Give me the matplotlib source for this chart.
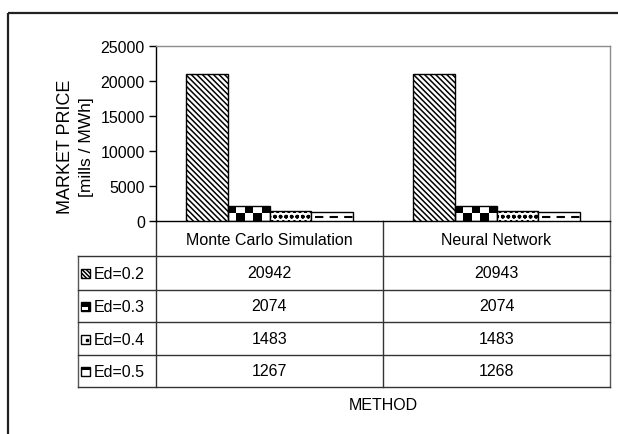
import numpy as np
import matplotlib
matplotlib.use("Agg")
import matplotlib.pyplot as plt
from matplotlib.patches import Rectangle

plt.rcParams['font.family'] = ['Liberation Sans', 'DejaVu Sans']
plt.rcParams['hatch.linewidth'] = 1.1

methods = ['Monte Carlo Simulation', 'Neural Network']
series = ['Ed=0.2', 'Ed=0.3', 'Ed=0.4', 'Ed=0.5']
ed_02 = [20942, 20943]
ed_03 = [2074, 2074]
ed_04 = [1483, 1483]
ed_05 = [1267, 1268]
yticks = [0, 5000, 10000, 15000, 20000, 25000]

values = [ed_02, ed_03, ed_04, ed_05]
hatches = ['\\' * 6, None, 'ooo', None]

W, H = 618, 435
FS = 11.5
fig = plt.figure(figsize=(W / 100, H / 100), dpi=100)

# overlay in pixel coords for the frame and the data table
ov = fig.add_axes([0, 0, 1, 1])
ov.set_xlim(0, W)
ov.set_ylim(H, 0)
ov.axis('off')

# plot area
ax = fig.add_axes([156 / W, 1 - 222 / H, 454 / W, 175 / H])
ax.set_zorder(2)
ax.patch.set_alpha(0)

bw = 0.183
x = np.arange(len(methods)) + 0.5
for i, vals in enumerate(values):
    xs = x + (i - 1.5) * bw
    bars = ax.bar(xs, vals, bw, color='white', edgecolor='black', linewidth=1,
                  hatch=hatches[i], zorder=3)
    for b, v in zip(bars, vals):
        x0, x1 = b.get_x(), b.get_x() + b.get_width()
        if series[i] == 'Ed=0.3':
            checker = np.indices((2, 5)).sum(axis=0) % 2
            im = ax.imshow(checker, cmap='gray', extent=(x0, x1, 0, v), origin='upper',
                           aspect='auto', interpolation='nearest', zorder=2.5)
            im.set_clip_path(b)
            b.set_facecolor('none')
        if series[i] == 'Ed=0.5':
            ax.hlines(v / 2, x0 + 0.1 * (x1 - x0), x1, colors='black', linewidth=1.5,
                      linestyles=(0, (4, 3)), zorder=4)

ax.set_xlim(0, len(methods))
ax.set_ylim(0, 25000)
ax.set_yticks(yticks)
ax.set_yticklabels([str(t) for t in yticks], fontsize=FS)
ax.set_xticks([])
ax.tick_params(axis='y', direction='out', length=5, width=1, pad=3)
for s in ['top', 'right']:
    ax.spines[s].set_color('#8c8c8c')
for s in ['left', 'bottom']:
    ax.spines[s].set_color('black')
for s in ax.spines.values():
    s.set_linewidth(1)

# y axis title, two lines
fig.text(65 / W, 1 - 147 / H, 'MARKET PRICE', rotation=90,
         ha='center', va='center', fontsize=13)
fig.text(86 / W, 1 - 147 / H, '[mills / MWh]', rotation=90,
         ha='center', va='center', fontsize=12.5)

# outer frame
ov.add_patch(Rectangle((8, 14), 640, 460, fill=False, edgecolor='#222222', linewidth=1.6))

# data table below the axis
lc = '#333333'
col_x = [156, 383, 610]
row_y = [257, 291, 323, 356, 388]
for cx in col_x:
    ov.plot([cx, cx], [222, row_y[-1]], color=lc if cx != 610 else '#555555', lw=1)
ov.plot([78, 78], [row_y[0], row_y[-1]], color='#555555', lw=1)
for ry in row_y:
    ov.plot([78, 610], [ry, ry], color=lc, lw=1)

col_c = [(col_x[j] + col_x[j + 1]) / 2 for j in range(len(methods))]
for j, m in enumerate(methods):
    ov.text(col_c[j], (222 + row_y[0]) / 2 + 1, m, ha='center', va='center', fontsize=FS)

for i, vals in enumerate(values):
    yc = (row_y[i] + row_y[i + 1]) / 2
    for j, v in enumerate(vals):
        ov.text(col_c[j], yc, str(v), ha='center', va='center', fontsize=FS)
    ov.text(94, yc + 1, series[i], ha='left', va='center', fontsize=FS)
    # legend key
    kx, ky, ks = 81, yc - 4, 9
    if series[i] == 'Ed=0.3':
        ov.add_patch(Rectangle((kx, ky), ks, ks, facecolor='black', edgecolor='black', lw=1))
        ov.add_patch(Rectangle((kx + 1, ky + 5), 6, 3, facecolor='white', edgecolor='none'))
    elif series[i] == 'Ed=0.5':
        ov.add_patch(Rectangle((kx, ky), ks, ks, facecolor='white', edgecolor='black', lw=1))
        ov.add_patch(Rectangle((kx, ky), ks, 2.5, facecolor='black', edgecolor='none'))
    elif series[i] == 'Ed=0.4':
        ov.add_patch(Rectangle((kx, ky), ks, ks, facecolor='white', edgecolor='black', lw=1))
        ov.plot([kx + 5.5], [ky + 5], 's', ms=2, color='black')
    else:
        ov.add_patch(Rectangle((kx, ky), ks, ks, facecolor='white', edgecolor='black',
                               lw=1, hatch='\\' * 8))

ov.text(col_x[1], 406, 'METHOD', ha='center', va='center', fontsize=FS)

fig.savefig('out.png', dpi=100)
